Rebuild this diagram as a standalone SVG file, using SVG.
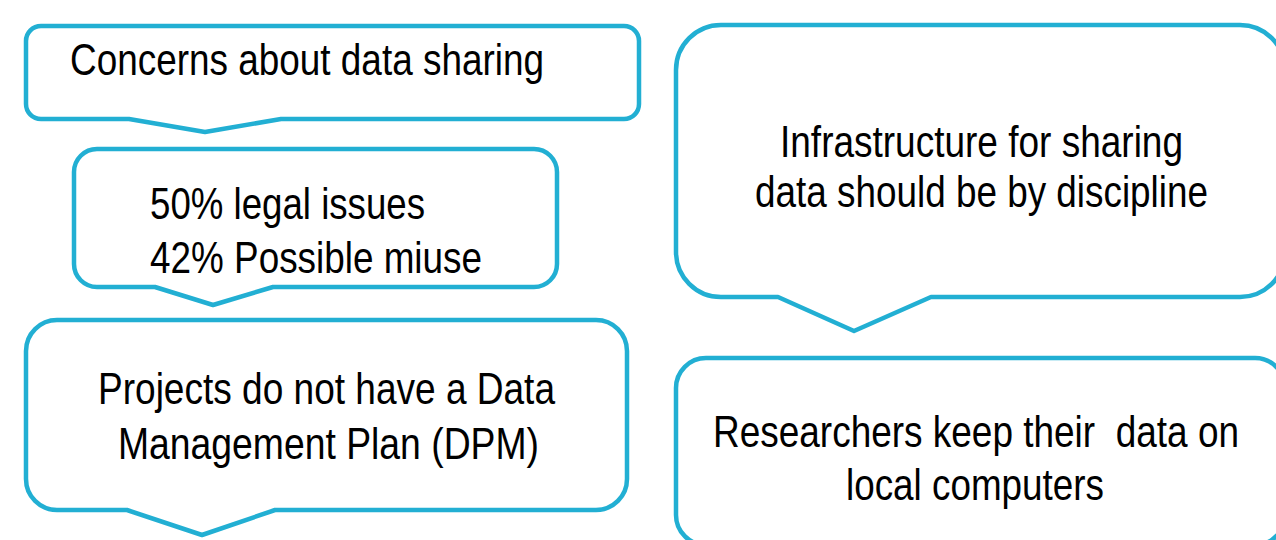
<svg xmlns="http://www.w3.org/2000/svg" width="1276" height="540" viewBox="0 0 1276 540">
  <style>
    .callout { fill: #ffffff; stroke: #22AFD3; stroke-width: 4.5; stroke-linejoin: round; }
    .label { font-family: "Liberation Sans", Arial, sans-serif; font-size: 45px; fill: #000000; white-space: pre; }
  </style>
  <rect x="0" y="0" width="1276" height="540" fill="#ffffff"/>

  <!-- Left column: concerns about data sharing -->
  <g id="node-concerns">
    <path class="callout" d="M41,26 H624 A15,15 0 0 1 639,41 V104 A15,15 0 0 1 624,119 H281 L205,132 L129,119 H41 A15,15 0 0 1 26,104 V41 A15,15 0 0 1 41,26 Z"/>
    <text class="label" x="70" y="75" textLength="474" lengthAdjust="spacingAndGlyphs">Concerns about data sharing</text>
  </g>

  <g id="node-percentages">
    <path class="callout" d="M97,149 H534 A23,23 0 0 1 557,172 V264 A23,23 0 0 1 534,287 H273 L213,305 L155,287 H97 A23,23 0 0 1 74,264 V172 A23,23 0 0 1 97,149 Z"/>
    <text class="label" x="150" y="219" textLength="275" lengthAdjust="spacingAndGlyphs">50% legal issues</text>
    <text class="label" x="150" y="273" textLength="332" lengthAdjust="spacingAndGlyphs">42% Possible miuse</text>
  </g>

  <g id="node-dmp">
    <path class="callout" d="M57,320 H596 A31,31 0 0 1 627,351 V479 A31,31 0 0 1 596,510 H275 L202,535 L127,510 H57 A31,31 0 0 1 26,479 V351 A31,31 0 0 1 57,320 Z"/>
    <text class="label" x="98" y="404" textLength="457" lengthAdjust="spacingAndGlyphs">Projects do not have a Data</text>
    <text class="label" x="118" y="459" textLength="421" lengthAdjust="spacingAndGlyphs">Management Plan (DPM)</text>
  </g>

  <!-- Right column -->
  <g id="node-infrastructure">
    <path class="callout" d="M721,25 H1240 A45,45 0 0 1 1285,70 V252 A45,45 0 0 1 1240,297 H931 L854,331 L778,297 H721 A45,45 0 0 1 676,252 V70 A45,45 0 0 1 721,25 Z"/>
    <text class="label" x="780" y="157" textLength="403" lengthAdjust="spacingAndGlyphs">Infrastructure for sharing</text>
    <text class="label" x="755" y="207" textLength="453" lengthAdjust="spacingAndGlyphs">data should be by discipline</text>
  </g>

  <g id="node-local-data">
    <path class="callout" d="M706,358 H1255 A30,30 0 0 1 1285,388 V515 A30,30 0 0 1 1255,545 H706 A30,30 0 0 1 676,515 V388 A30,30 0 0 1 706,358 Z"/>
    <text class="label" x="713" y="447" textLength="526" lengthAdjust="spacingAndGlyphs">Researchers keep their  data on</text>
    <text class="label" x="846" y="500" textLength="258" lengthAdjust="spacingAndGlyphs">local computers</text>
  </g>
</svg>
